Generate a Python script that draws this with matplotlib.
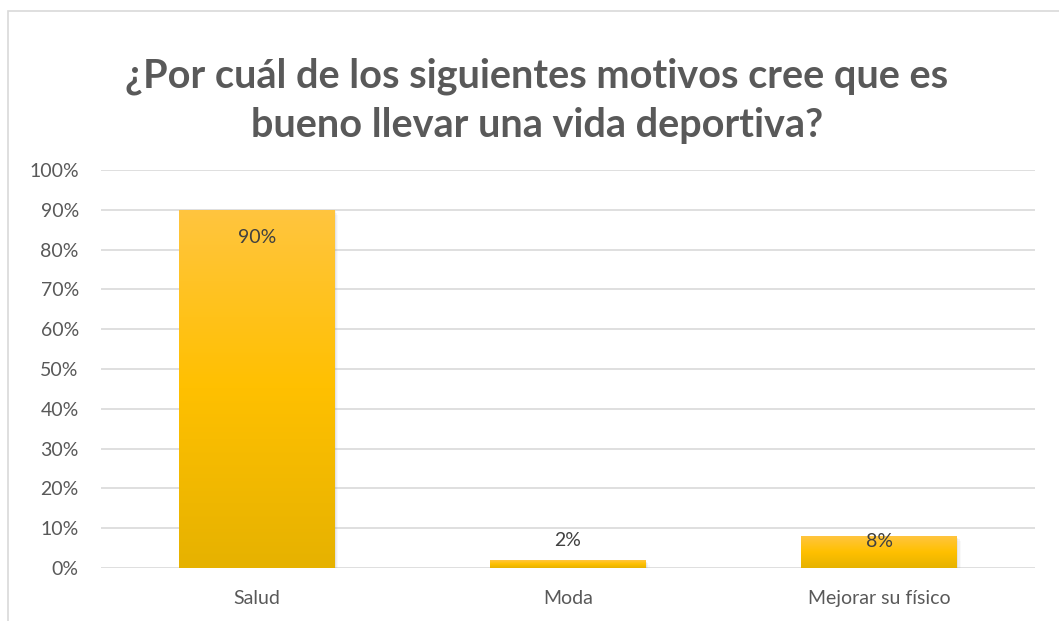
"""Bar chart: motivos para llevar una vida deportiva (Excel-style gradient bars)."""
import numpy as np
import matplotlib
matplotlib.use('Agg')
import matplotlib.pyplot as plt
from matplotlib.colors import LinearSegmentedColormap
from matplotlib.patches import Rectangle
from matplotlib.ticker import PercentFormatter

categories = ['Salud', 'Moda', 'Mejorar su físico']
values = [0.90, 0.02, 0.08]
labels = ['90%', '2%', '8%']
title = '¿Por cuál de los siguientes motivos cree que es\nbueno llevar una vida deportiva?'

plt.rcParams['font.family'] = ['Lato', 'DejaVu Sans']
TXT = '#595959'
BAR_W = 0.5

# gradient: darker at bottom, pure gold in middle, lighter at top
gold = LinearSegmentedColormap.from_list('gold', ['#E6B200', '#FFC000', '#FFC53F'])
grad = np.linspace(0, 1, 256).reshape(-1, 1)

fig = plt.figure(figsize=(10.59, 6.21), dpi=100)
# chart frame (cropped on right and bottom, like the screenshot)
fig.patches.append(Rectangle((8 / 1059, -0.05), 1.2, 1 - 11 / 621 + 0.05,
                             transform=fig.transFigure, fill=False,
                             edgecolor='#D9D9D9', linewidth=1.2))

ax = fig.add_axes([101 / 1059, 1 - 568 / 621, 934 / 1059, 398 / 621])
x = np.arange(len(categories))

for xi, v in zip(x, values):
    x0, x1 = xi - BAR_W / 2, xi + BAR_W / 2
    # soft shadow
    for k, a in enumerate([0.10, 0.07, 0.04]):
        dx = 0.004 * (k + 1)
        ax.add_patch(Rectangle((x0 + dx, -0.004 * (k + 1)), BAR_W, v,
                               facecolor='#7F7F7F', alpha=a, edgecolor='none', zorder=2))
    bar = ax.bar(xi, v, width=BAR_W, color='none', zorder=3)[0]
    im = ax.imshow(grad, cmap=gold, origin='lower', aspect='auto',
                   extent=(x0, x1, 0, v), zorder=3)
    im.set_clip_path(bar)

ax.set_xlim(-0.5, len(categories) - 0.5)
ax.set_ylim(0, 1.0)

# data labels (Excel inside end / outside end placement)
label_offsets = {0: -20, 1: 14, 2: -3.5}
for i, (xi, v, lab) in enumerate(zip(x, values, labels)):
    ax.annotate(lab, (xi, v), xytext=(0, label_offsets[i]), textcoords='offset points',
                ha='center', va='center', fontsize=14, color='#404040', zorder=5)

ax.set_yticks(np.arange(0, 1.01, 0.1))
ax.yaxis.set_major_formatter(PercentFormatter(1.0, decimals=0))
ax.set_xticks(x)
ax.set_xticklabels(categories)
ax.tick_params(axis='both', length=0, labelsize=14, colors=TXT)
ax.tick_params(axis='y', pad=16)
ax.tick_params(axis='x', pad=16)
ax.grid(axis='y', color='#D9D9D9', linewidth=1.2, zorder=0)
ax.set_axisbelow(True)
for s in ax.spines.values():
    s.set_visible(False)

fig.text(537 / 1059, 1 - 101 / 621, title, ha='center', va='center',
         fontsize=28.5, fontweight='bold', color=TXT, linespacing=1.4)

fig.savefig('out.png', dpi=100)
